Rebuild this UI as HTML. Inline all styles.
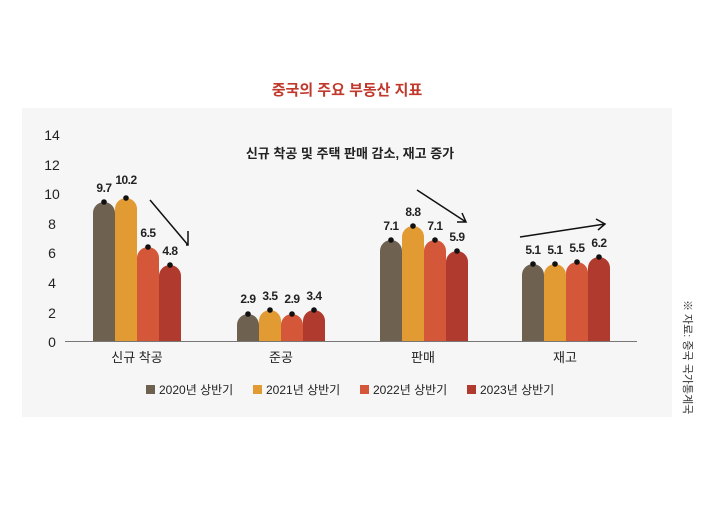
<!DOCTYPE html><html><head><meta charset="utf-8"><style>
body{margin:0;background:#fff;}
svg text{font-family:"Liberation Sans","Noto Sans CJK KR",sans-serif;}
</style></head><body>
<svg width="720" height="500" xmlns="http://www.w3.org/2000/svg">
<rect width="720" height="500" fill="#fff"/>
<text x="347" y="95" text-anchor="middle" font-size="15" font-weight="bold" fill="#c0392b">중국의 주요 부동산 지표</text>
<rect x="22" y="108" width="650" height="309" fill="#f6f6f6"/>
<g font-size="14" fill="#222" text-anchor="middle">
<text x="52" y="140">14</text><text x="52" y="170">12</text><text x="52" y="199">10</text>
<text x="52" y="229">8</text><text x="52" y="258">6</text><text x="52" y="288">4</text>
<text x="52" y="318">2</text><text x="52" y="347">0</text>
</g>
<text x="350" y="158" text-anchor="middle" font-size="13" font-weight="bold" fill="#222">신규 착공 및 주택 판매 감소, 재고 증가</text>
<g id="bars">
<path d="M93,341V213a11,11 0 0 1 22,0V341Z" fill="#6e6150"/>
<path d="M115,341V209a11,11 0 0 1 22,0V341Z" fill="#e29a32"/>
<path d="M137,341V258a11,11 0 0 1 22,0V341Z" fill="#d4573a"/>
<path d="M159,341V276a11,11 0 0 1 22,0V341Z" fill="#b03a2e"/>
<path d="M237,341V325a11,11 0 0 1 22,0V341Z" fill="#6e6150"/>
<path d="M259,341V321a11,11 0 0 1 22,0V341Z" fill="#e29a32"/>
<path d="M281,341V325a11,11 0 0 1 22,0V341Z" fill="#d4573a"/>
<path d="M303,341V321a11,11 0 0 1 22,0V341Z" fill="#b03a2e"/>
<path d="M380,341V251a11,11 0 0 1 22,0V341Z" fill="#6e6150"/>
<path d="M402,341V237a11,11 0 0 1 22,0V341Z" fill="#e29a32"/>
<path d="M424,341V251a11,11 0 0 1 22,0V341Z" fill="#d4573a"/>
<path d="M446,341V262a11,11 0 0 1 22,0V341Z" fill="#b03a2e"/>
<path d="M522,341V275a11,11 0 0 1 22,0V341Z" fill="#6e6150"/>
<path d="M544,341V275a11,11 0 0 1 22,0V341Z" fill="#e29a32"/>
<path d="M566,341V273a11,11 0 0 1 22,0V341Z" fill="#d4573a"/>
<path d="M588,341V268a11,11 0 0 1 22,0V341Z" fill="#b03a2e"/>
</g>
<g fill="#111">
<circle cx="104" cy="202" r="2.8"/><circle cx="126" cy="198" r="2.8"/><circle cx="148" cy="247" r="2.8"/><circle cx="170" cy="265" r="2.8"/>
<circle cx="248" cy="314" r="2.8"/><circle cx="270" cy="310" r="2.8"/><circle cx="292" cy="314" r="2.8"/><circle cx="314" cy="310" r="2.8"/>
<circle cx="391" cy="240" r="2.8"/><circle cx="413" cy="226" r="2.8"/><circle cx="435" cy="240" r="2.8"/><circle cx="457" cy="251" r="2.8"/>
<circle cx="533" cy="264" r="2.8"/><circle cx="555" cy="264" r="2.8"/><circle cx="577" cy="262" r="2.8"/><circle cx="599" cy="257" r="2.8"/>
</g>
<g font-size="12" font-weight="bold" fill="#222" text-anchor="middle" letter-spacing="-0.5">
<text x="104" y="192">9.7</text><text x="126" y="184">10.2</text><text x="148" y="237">6.5</text><text x="170" y="255">4.8</text>
<text x="248" y="303">2.9</text><text x="270" y="300">3.5</text><text x="292" y="303">2.9</text><text x="314" y="300">3.4</text>
<text x="391" y="230">7.1</text><text x="413" y="216">8.8</text><text x="435" y="230">7.1</text><text x="457" y="241">5.9</text>
<text x="533" y="254">5.1</text><text x="555" y="254">5.1</text><text x="577" y="252">5.5</text><text x="599" y="247">6.2</text>
</g>
<line x1="65" y1="341.5" x2="637" y2="341.5" stroke="#777" stroke-width="1"/>
<g stroke="#111" stroke-width="1.5" fill="none">
<path d="M150,200L188,245M188,231V245H186"/>
<path d="M417,190L466,222M457,222H466L462,213"/>
<path d="M520,237L605,224M596,219L605,224L598,230"/>
</g>
<g font-size="13" fill="#222" text-anchor="middle">
<text x="137" y="362">신규 착공</text><text x="281" y="362">준공</text><text x="423" y="362">판매</text><text x="565" y="362">재고</text>
</g>
<g font-size="12" fill="#222">
<rect x="146" y="385" width="9" height="9" fill="#6e6150"/><text x="159" y="394">2020년 상반기</text>
<rect x="253" y="385" width="9" height="9" fill="#e29a32"/><text x="266" y="394">2021년 상반기</text>
<rect x="360" y="385" width="9" height="9" fill="#d4573a"/><text x="373" y="394">2022년 상반기</text>
<rect x="467" y="385" width="9" height="9" fill="#b03a2e"/><text x="480" y="394">2023년 상반기</text>
</g>
<text transform="translate(684,300) rotate(90)" font-size="11" fill="#333">※ 자료: 중국 국가통계국</text>
</svg>
</body></html>
